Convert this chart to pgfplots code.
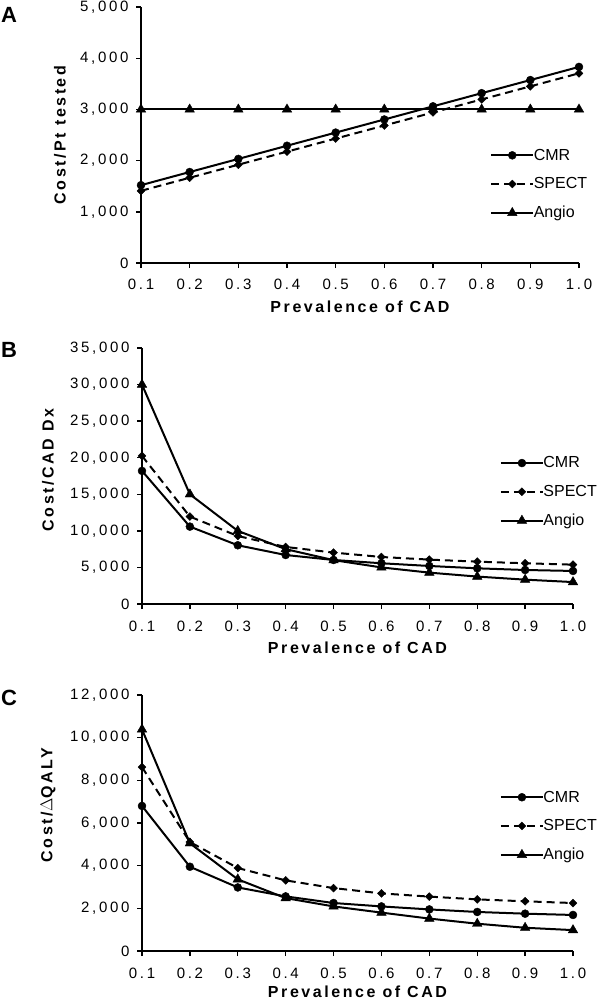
\documentclass[border=0pt]{standalone}
\usepackage{fontspec}
\setmainfont{Liberation Sans}
\newfontfamily\tickfont{Liberation Sans}[LetterSpace=18]
\newfontfamily\labfont{Liberation Sans}[LetterSpace=16]
\usepackage{pgfplots}
\pgfplotsset{compat=1.18}

\pgfplotsset{
  panel/.style={
    scale only axis, width=431bp, height=256bp,
    xmin=0.1, xmax=1.0, ymin=0,
    axis lines=left, axis line style={-, line width=1.8bp},
    tick style={line width=1.4bp, black}, major tick length=5bp, tick align=outside,
    xtick={0.1,0.2,0.3,0.4,0.5,0.6,0.7,0.8,0.9,1.0},
    xticklabels={0.1,0.2,0.3,0.4,0.5,0.6,0.7,0.8,0.9,1.0},
    scaled y ticks=false,
    /pgf/number format/1000 sep={,},
    /pgf/number format/assume math mode=true,
    tick label style={font=\tickfont\fontsize{15bp}{17bp}\selectfont},
    xticklabel style={yshift=-8bp},
    yticklabel style={xshift=-4bp},
    label style={font=\labfont\bfseries\fontsize{16bp}{18bp}\selectfont},
    xlabel={Prevalence of CAD},
    xlabel style={at={(axis description cs:0.5,0)}, anchor=center, yshift=-44bp},
    ylabel style={anchor=center, rotate=0},
    legend cell align=left,
    legend image code/.code={\draw[mark repeat=2, mark phase=2] plot coordinates {(0bp,0bp) (21bp,0bp) (42bp,0bp)};},
    legend style={draw=none, fill=none, anchor=north west, inner sep=0pt,
      font=\fontsize{16bp}{18bp}\selectfont, row sep=14bp,
      nodes={inner sep=1bp},
      /tikz/every odd column/.append style={column sep=-1.5bp}},
  },
  cmr/.style={black, solid, line width=2bp, mark=*, mark size=4bp, mark options={solid, line width=0.4bp}},
  spect/.style={black, dash pattern=on 8bp off 5bp, line width=2bp, mark=square*, mark size=2.8bp, mark options={solid, rotate=45, line width=0.4bp}},
  angio/.style={black, solid, line width=2bp, mark=triangle*, mark size=5.5bp, mark options={solid, line width=0.4bp}},
}

\begin{document}
\begin{tikzpicture}
\useasboundingbox (0,0) rectangle (600bp,-1002bp);

% Panel A
\node[font=\bfseries\fontsize{22bp}{22bp}\selectfont] at (9bp,-15bp) {A};
\begin{axis}[panel, width=438bp, at={(141bp,-263bp)}, anchor=south west,
  ymax=5000, ytick={0,1000,2000,3000,4000,5000},
  ylabel={Cost/Pt tested},
  ylabel style={at={(axis description cs:-0.185,0.5)}},
  legend style={at={(axis description cs:0.797,0.45)}}]
\addplot[cmr] coordinates {(0.1,1520) (0.2,1777) (0.3,2033) (0.4,2290) (0.5,2547) (0.6,2803) (0.7,3060) (0.8,3317) (0.9,3573) (1.0,3830)};
\addlegendentry{CMR}
\addplot[spect] coordinates {(0.1,1410) (0.2,1665) (0.3,1920) (0.4,2175) (0.5,2430) (0.6,2685) (0.7,2940) (0.8,3195) (0.9,3450) (1.0,3705)};
\addlegendentry{SPECT}
\addplot[angio] coordinates {(0.1,3000) (0.2,3000) (0.3,3000) (0.4,3000) (0.5,3000) (0.6,3000) (0.7,3000) (0.8,3000) (0.9,3000) (1.0,3000)};
\addlegendentry{Angio}
\end{axis}

% Panel B
\node[font=\bfseries\fontsize{22bp}{22bp}\selectfont] at (9bp,-350bp) {B};
\begin{axis}[panel, at={(142bp,-604bp)}, anchor=south west,
  ymax=35000, ytick={0,5000,10000,15000,20000,25000,30000,35000},
  ylabel={Cost/CAD Dx},
  ylabel style={at={(axis description cs:-0.218,0.523)}},
  legend style={at={(axis description cs:0.83,0.58)}}]
\addplot[cmr] coordinates {(0.1,18200) (0.2,10580) (0.3,8030) (0.4,6700) (0.5,6020) (0.6,5570) (0.7,5200) (0.8,4880) (0.9,4650) (1.0,4520)};
\addlegendentry{CMR}
\addplot[spect] coordinates {(0.1,20250) (0.2,11950) (0.3,9300) (0.4,7800) (0.5,7030) (0.6,6430) (0.7,6070) (0.8,5790) (0.9,5570) (1.0,5380)};
\addlegendentry{SPECT}
\addplot[angio] coordinates {(0.1,30000) (0.2,15000) (0.3,10000) (0.4,7500) (0.5,6000) (0.6,5000) (0.7,4290) (0.8,3750) (0.9,3330) (1.0,3000)};
\addlegendentry{Angio}
\end{axis}

% Panel C
\node[font=\bfseries\fontsize{22bp}{22bp}\selectfont] at (9bp,-698bp) {C};
\begin{axis}[panel, at={(142bp,-951bp)}, anchor=south west,
  ymax=12000, ytick={0,2000,4000,6000,8000,10000,12000},
  ylabel={Cost/$\Delta$QALY},
  ylabel style={at={(axis description cs:-0.218,0.57)}},
  xlabel style={yshift=3bp},
  legend style={at={(axis description cs:0.83,0.63)}}]
\addplot[cmr] coordinates {(0.1,6800) (0.2,3950) (0.3,2980) (0.4,2560) (0.5,2250) (0.6,2090) (0.7,1950) (0.8,1830) (0.9,1750) (1.0,1690)};
\addlegendentry{CMR}
\addplot[spect] coordinates {(0.1,8620) (0.2,5110) (0.3,3890) (0.4,3310) (0.5,2950) (0.6,2700) (0.7,2550) (0.8,2420) (0.9,2330) (1.0,2250)};
\addlegendentry{SPECT}
\addplot[angio] coordinates {(0.1,10390) (0.2,5050) (0.3,3360) (0.4,2480) (0.5,2090) (0.6,1800) (0.7,1520) (0.8,1280) (0.9,1090) (1.0,980)};
\addlegendentry{Angio}
\end{axis}
\end{tikzpicture}
\end{document}
